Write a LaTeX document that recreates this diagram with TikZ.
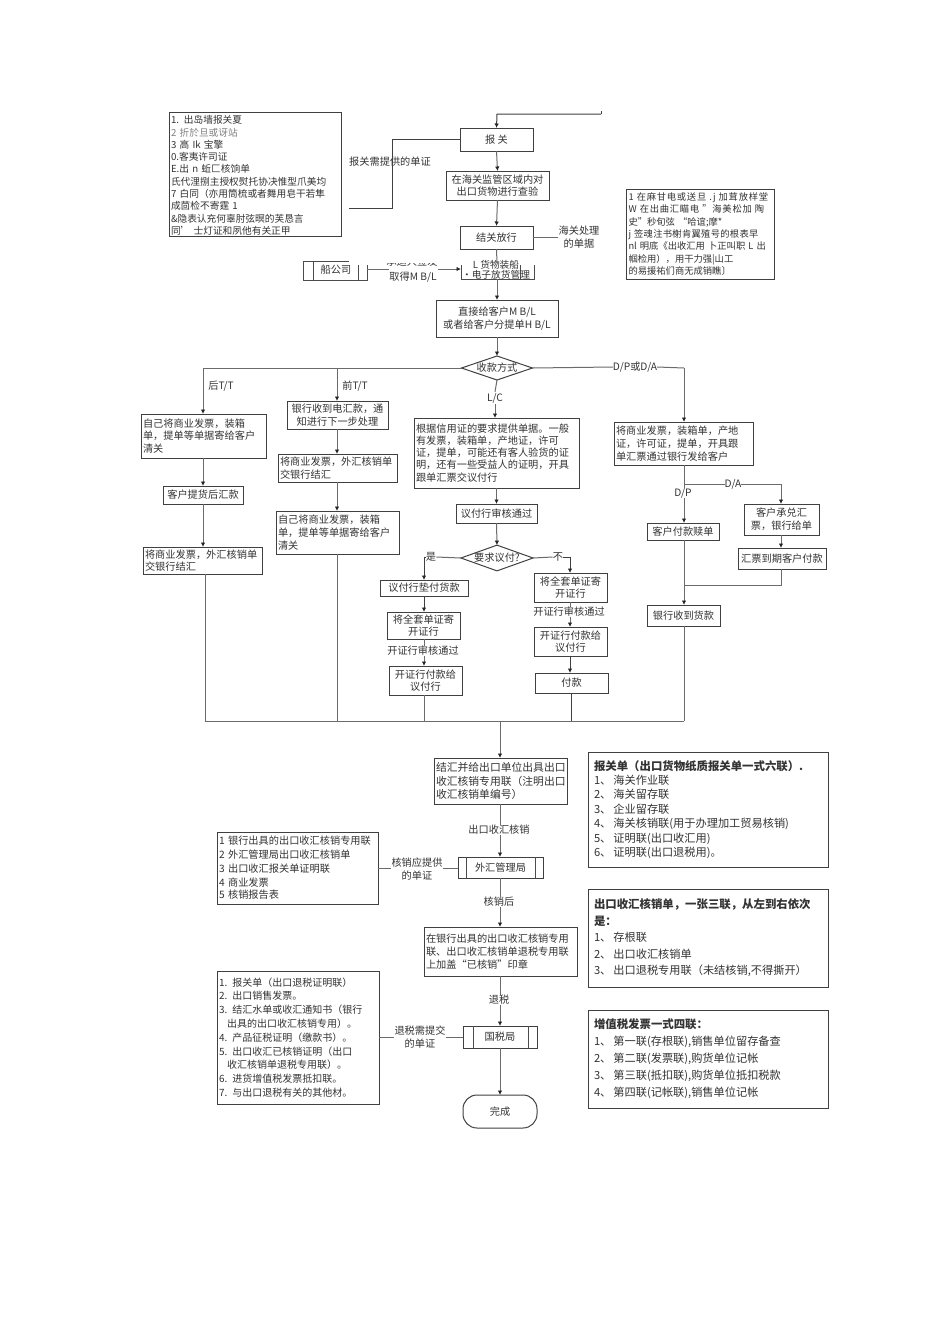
\documentclass[tikz,border=0pt]{standalone}
\usepackage{fontspec}
\setmainfont{Noto Sans CJK SC}
\usetikzlibrary{arrows.meta,shapes.geometric}
\newcommand{\fz}[2]{\fontsize{#1}{#2}\selectfont}
\newcommand{\lsp}[2]{{\addfontfeature{LetterSpace=#1}#2}}
\tikzset{
  x=1pt,y=-1pt,
  base/.style={draw=black!75,line width=1pt,inner sep=0pt,outer sep=0pt,text=black!80,font=\fz{10.2}{12.7}},
  cbox/.style={base,align=center},
  lbox/.style={base,align=left,inner xsep=2pt},
  rlist/.style={lbox,inner xsep=6pt,text width=228pt},
  lab/.style={inner sep=0pt,text=black!80,font=\fz{10.2}{12.7},align=center},
  line/.style={draw=black!58,line width=1pt},
  flow/.style={line,-{Latex[length=4.5pt,width=4.5pt,black!85]}},
  inner/.style={draw=black!70,line width=0.9pt},
}
% name, x1,y1,x2,y2, text
\newcommand{\cb}[6]{\node[cbox,minimum width={(#4-#2)*1pt},minimum height={(#5-#3)*1pt}] (#1) at ({(#2+#4)/2},{(#3+#5)/2}) {#6};}
\newcommand{\lb}[6]{\node[lbox,text width={(#4-#2-4)*1pt},minimum height={(#5-#3)*1pt}] (#1) at ({(#2+#4)/2},{(#3+#5)/2}) {#6};}
\begin{document}
\begin{tikzpicture}
\useasboundingbox[fill=white] (0,0) rectangle (950,1318);
% ---------- top part
\coordinate (start) at (601,114);
\coordinate (starttick) at (601,111);
\draw[line,draw=black!75] (starttick) -- (start);
\cb{baoguan}{460}{128}{533}{151}{报 关}
\cb{chayan}{446}{171}{549}{200}{在海关监管区域内对\\出口货物进行查验}
\cb{fangxing}{460}{226}{533}{249}{结关放行}
\cb{mbl}{436}{300}{558}{337}{直接给客户M B/L\\或者给客户分提单H B/L}
\node[lbox,text width=168pt,minimum height=124pt,font=\fz{9.7}{12.3}] (note1) at (255,174) {\rule{0pt}{11pt}1. 出岛墙报关夏\\{\itshape\color{black!50}2 折於旦或讶站}\\3 高 Ik 宝擎\\0.客夷许司证\\E.出 n 蚯匚核饷单\\氏代浬捌主授权熨托协决惟型爪美均\\7 白同（亦用筒梳或者舞用皂干若隼\\成茴检不寄霆 1\\\&隐表认充何辜肘弦暝的芙恳言\\同’ 士灯证和夙他有关正甲};
\node[lbox,text width=144pt,minimum height=90pt,font=\fz{9.3}{12.4}] (note2) at (700.5,234) {\lsp{8}{1 在麻甘电或送旦 .j 加茸放样堂}\\\lsp{8}{W 在出曲汇瞄电 "海美松加 陶}\\史"秒旬弦 “哈谊;摩*\\\lsp{3}{j 签魂注书榭肯翼殖号的根表早}\\nl 明底《出收汇用 卜正叫职 L 出\\帼检用），用干力强|山工\\的易援祐们商无成销瞧〕};
\node[lab] (lbg) at (390,162) {报关需提供的单证};
\coordinate (lbgend) at (349,208);
\node[lab] (lhg) at (579,237) {海关处理\\的单据};
% overlapped page-break row
\coordinate (ca) at (303,280); \coordinate (cb) at (367,280);
\coordinate (cc) at (303,261); \coordinate (cd) at (367,265);
\draw[inner] (349,261) -- (cc) -- (ca) -- (cb) -- (cd);
\draw[inner] (313,261) -- (313,280) (358,265) -- (358,280);
\node[lab] (ship) at (336,270) {船公司};
\node[lab] (mblab) at (413,277) {取得M B/L};
\begin{scope}
\clip (380,263.5) rectangle (445,270);
\node[lab] (mblab2) at (412,262) {承运人签发};
\end{scope}
\coordinate (g1) at (461,265);\coordinate (g2) at (461,279);\coordinate (g3) at (534,279);\coordinate (g4) at (534,265);
\draw[inner] (g1) -- (g2) -- (g3) -- (g4);
\draw[inner] (520,265) -- (520,279);
\node[lab,font=\fz{9.7}{5}] (goods) at (496,270) {L 货物装船\\·电子放货管理};
\coordinate (m1a) at (367,269);
\coordinate (m1b) at (389,269);
\coordinate (m1c) at (438,269);
\coordinate (m1d) at (461,269);
\draw[line] (m1a) -- (m1b);
\draw[flow] (m1c) -- (m1d);
% flow top
\draw[flow,draw=black!75] (start) -- (497,114) -- (baoguan.north);
\draw[flow] (baoguan.south) -- (chayan.north);
\draw[flow] (chayan.south) -- (fangxing.north);
\draw[line,draw=black!75] (lbgend) -- (392,208) -- (392,139) -- (baoguan.west |- 392,139);
\draw[line] (fangxing.east) -- (lhg.west |- fangxing.east);
\draw[line] (fangxing.south) -- (497,263);
\draw[flow] (497,279) -- (mbl.north);
% diamond
\node[base,diamond,aspect=2.9,minimum width=71pt,minimum height=24pt,inner sep=0pt] (d1) at (497,368) {收款方式};
\draw[flow] (mbl.south) -- (d1.north);
% left
\lb{a1}{141}{414}{266}{458}{自己将商业发票，装箱\\单，提单等单据寄给客户\\清关}
\cb{a2}{163}{486}{243}{504}{客户提货后汇款}
\lb{a3}{143}{547}{262}{574}{将商业发票，外汇核销单\\交银行结汇}
\node[lab] (lh) at (221,386) {后T/T};
% mid
\cb{b1}{287}{401}{388}{429}{银行收到电汇款，通\\知进行下一步处理}
\lb{b2}{278}{454}{397}{482}{将商业发票，外汇核销单\\交银行结汇}
\lb{b3}{276}{511}{399}{554}{自己将商业发票，装箱\\单，提单等单据寄给客户\\清关}
\node[lab] (lq) at (355,386) {前T/T};
% center
\node[lab,fill=white,inner sep=1pt] (lc) at (495,398) {L/C};
\lb{c1}{414}{418}{579}{488}{\fz{10.2}{12.2}根据信用证的要求提供单据。一般\\有发票，装箱单，产地证，许可\\证，提单，可能还有客人验货的证\\明，还有一些受益人的证明，开具\\跟单汇票交议付行}
\cb{c2}{456}{504}{537}{523}{议付行审核通过}
\node[base,diamond,aspect=2.8,minimum width=70pt,minimum height=25pt,inner sep=0pt] (d2) at (497,558) {要求议付?};
\cb{e1}{380}{580}{468}{596}{议付行垫付货款}
\cb{e2}{387}{612}{460}{639}{将全套单证寄\\开证行}
\node[lab] (e3) at (423,651) {开证行审核通过};
\cb{e4}{389}{666}{462}{695}{开证行付款给\\议付行}
\cb{f1}{534}{573}{607}{602}{将全套单证寄\\开证行}
\node[lab] (f2) at (569,612) {开证行审核通过};
\cb{f3}{534}{627}{607}{656}{开证行付款给\\议付行}
\cb{f4}{535}{673}{608}{693}{付款}
\node[lab] (lyes) at (431,557) {是};
\node[lab] (lno) at (558,557) {不};
% right
\node[lab] (ldp) at (635,367) {D/P或D/A};
\lb{g5}{614}{422}{753}{465}{将商业发票，装箱单，产地\\证，许可证，提单，开具跟\\单汇票通过银行发给客户}
\node[lab] (dp) at (683,493) {D/P};
\node[lab] (da) at (733,484) {D/A};
\cb{h1}{647}{523}{719}{540}{客户付款赎单}
\cb{h2}{744}{504}{819}{535}{客户承兑汇\\票，银行给单}
\cb{h3}{738}{548}{826}{569}{汇票到期客户付款}
\cb{h4}{647}{605}{720}{626}{银行收到货款}
% connectors of the branches
\coordinate (bleft) at (203,368);
\coordinate (bright) at (684,368);
\draw[line] (d1.west) -- (bleft);
\draw[flow] (bleft) -- (a1.north -| bleft);
\draw[flow] (a1.south -| bleft) -- (a2.north -| bleft);
\draw[flow] (a2.south -| bleft) -- (a3.north -| bleft);
\draw[flow] (337,368) -- (b1.north -| 337,0);
\draw[flow] (b1.south -| 337,0) -- (b2.north -| 337,0);
\draw[flow] (b2.south -| 337,0) -- (b3.north -| 337,0);
\draw[flow] (lc.south) -- (c1.north -| lc.south);
\draw[line] (d1.south) -- (lc.north);
\draw[flow] (c1.south -| c2.north) -- (c2.north);
\draw[flow] (c2.south) -- (d2.north);
\draw[line] (d1.east) -- (ldp.west);
\draw[line] (ldp.east) -- (bright);
\draw[flow] (bright) -- (g5.north -| bright);
\draw[line] (g5.south -| bright) -- (dp.north -| bright);
\draw[flow] (dp.south -| bright) -- (h1.north -| bright);
\draw[line] (684,484) -- (da.west);
\draw[flow] (da.east) -- (781,484) -- (h2.north -| 781,0);
\draw[flow] (h2.south -| 781,0) -- (h3.north -| 781,0);
\draw[line] (h3.south -| 781,0) -- (781,585) -- (684,585);
\draw[flow] (h1.south -| bright) -- (h4.north -| bright);
\draw[line] (d2.west) -- (lyes.east);
\draw[flow,draw=black!75] (lyes.west) -- (424,557) -- (424,580);
\draw[flow,draw=black!75] (424,596) -- (424,612);
\draw[line] (424,639) -- (e3.north -| 424,0);
\draw[flow] (e3.south -| 424,0) -- (424,666);
\draw[line] (d2.east) -- (lno.west);
\draw[flow,draw=black!75] (lno.east) -- (570,557) -- (570,573);
\draw[line] (570,602) -- (f2.north -| 570,0);
\draw[flow] (f2.south -| 570,0) -- (570,627);
\draw[flow,draw=black!75] (570,656) -- (570,673);
% bus
\coordinate (busl) at (205,721);
\coordinate (busr) at (684,721);
\draw[line] (busl) -- (busr);
\draw[line] (a3.south -| busl) -- (busl);
\draw[line] (b3.south -| 337,0) -- (337,721);
\draw[line] (424,695) -- (424,721);
\draw[line,draw=black!75] (571,693) -- (571,721);
\draw[line] (h4.south -| bright) -- (busr);
% ---------- lower part
\lb{k1}{434}{758}{567}{804}{\fz{10.8}{14}结汇并给出口单位出具出口\\收汇核销专用联（注明出口\\收汇核销单编号）}
\draw[flow] (500,721) -- (500,758);
\node[lab] (k2) at (499,830) {出口收汇核销};
\cb{k3}{458}{857}{543}{878}{外汇管理局}
\draw[inner] (466,857) -- (466,878) (535,857) -- (535,878);
\node[lab] (k4) at (499,902) {核销后};
\lb{k5}{424}{927}{577}{976}{\fz{10.2}{13.5}在银行出具的出口收汇核销专用\\联、出口收汇核销单退税专用联\\上加盖“已核销”印章}
\node[lab] (k6) at (499,1000) {退税};
\cb{k7}{463}{1026}{537}{1048}{国税局}
\draw[inner] (473,1026) -- (473,1048) (528,1026) -- (528,1048);
\node[base,rounded corners=14pt,minimum width=74pt,minimum height=33pt] (k8) at (500,1111.5) {完成};
\draw[line] (500,804) -- (k2.north -| 500,0);
\draw[flow] (k2.south -| 500,0) -- (500,857);
\draw[line] (500,878) -- (k4.north -| 500,0);
\draw[flow] (k4.south -| 500,0) -- (500,927);
\draw[line] (500,976) -- (k6.north -| 500,0);
\draw[flow] (k6.south -| 500,0) -- (500,1026);
\draw[flow] (k7.south) -- (k8.north);
\lb{m1}{217}{832}{378}{904}{\fz{10.2}{13.7}1 银行出具的出口收汇核销专用联\\2 外汇管理局出口收汇核销单\\3 出口收汇报关单证明联\\4 商业发票\\5 核销报告表}
\node[lab] (m2) at (417,869) {核销应提供\\的单证};
\draw[line] (378,868) -- (m2.west |- 0,868);
\draw[line] (m2.east |- 0,868) -- (458,868);
\node[lbox,text width=158pt,minimum height=133pt,font=\fz{10}{13.8}] (n1) at (298,1037.5) {1. 报关单（出口退税证明联）\\2. 出口销售发票。\\3. 结汇水单或收汇通知书（银行\\\hspace*{8pt}出具的出口收汇核销专用）。\\4. 产品征税证明（缴款书）。\\5. 出口收汇已核销证明（出口\\\hspace*{8pt}收汇核销单退税专用联）。\\6. 进货增值税发票抵扣联。\\7. 与出口退税有关的其他材。};
\node[lab] (n2) at (420,1037) {退税需提交\\的单证};
\draw[line] (379,1037) -- (n2.west |- 0,1037);
\draw[line] (n2.east |- 0,1037) -- (463,1037);
% ---------- right lists
\node[rlist,minimum height=115pt,font=\fz{11.2}{14.4}] (r1) at (708,809.5) {{\bfseries\fz{11.4}{14.4}报关单（出口货物纸质报关单一式六联）.}\\1、\hspace{2pt}海关作业联\\2、\hspace{2pt}海关留存联\\3、\hspace{2pt}企业留存联\\4、\hspace{2pt}海关核销联(用于办理加工贸易核销)\\5、\hspace{2pt}证明联(出口收汇用)\\6、\hspace{2pt}证明联(出口退税用)。};
\node[rlist,minimum height=98pt,font=\fz{11.2}{16.5}] (r2) at (708,938) {{\bfseries\fz{11.4}{16.5}出口收汇核销单，一张三联，从左到右依次\\是：}\\1、\hspace{2pt}存根联\\2、\hspace{2pt}出口收汇核销单\\3、\hspace{2pt}出口退税专用联（未结核销,不得撕开）};
\node[rlist,minimum height=98pt,font=\fz{11.2}{17}] (r3) at (708,1059) {{\bfseries\fz{11.4}{17}增值税发票一式四联：}\\1、\hspace{2pt}第一联(存根联),销售单位留存备查\\2、\hspace{2pt}第二联(发票联),购货单位记帐\\3、\hspace{2pt}第三联(抵扣联),购货单位抵扣税款\\4、\hspace{2pt}第四联(记帐联),销售单位记帐};
\end{tikzpicture}
\end{document}
